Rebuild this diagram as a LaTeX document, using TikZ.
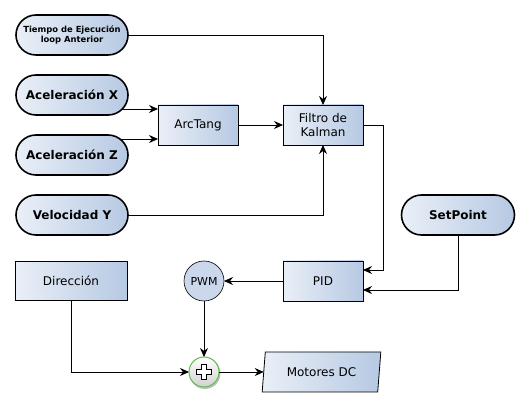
\documentclass[tikz,border=0pt]{standalone}
\usepackage{fontspec}
\setmainfont{DejaVu Sans}
\usepackage{xcolor}
\usetikzlibrary{calc,positioning,arrows.meta,shapes.geometric}

\definecolor{boxl}{HTML}{EAEFF7}
\definecolor{boxr}{HTML}{B6C9E3}
\definecolor{pwmfill}{HTML}{CBD8EB}
\definecolor{sumgreen}{HTML}{5CBF4C}

\begin{document}
\begin{tikzpicture}[x=1pt,y=1pt,every node/.style={draw, outer sep=0pt, inner sep=0pt},
    term/.style={rounded corners=20pt,line width=1.6pt,left color=boxl,right color=boxr,
        minimum width=112pt,minimum height=40pt,font=\fontsize{12}{14}\selectfont\bfseries},
    block/.style={line width=0.8pt,left color=boxl,right color=boxr,
        minimum width=80pt,minimum height=40pt,align=center,font=\fontsize{12}{14}\selectfont}]
\tikzset{sarrow/.style={-{Stealth[length=9pt,width=8pt,inset=3pt]},line width=0.8pt}}

  \useasboundingbox (0,0) rectangle (530,-411);

  % entradas
  \node(T0) [term,align=center,font=\fontsize{8.4}{10}\selectfont\bfseries] at (72,-35) {Tiempo de Ejecución\\loop Anterior};
  \node(AX) [term] at (72,-95)  {Aceleración X};
  \node(AZ) [term] at (72,-155) {Aceleración Z};
  \node(VY) [term] at (72,-215) {Velocidad Y};
  \node(SP) [term,minimum width=113pt] at (458,-215) {SetPoint};

  % bloques
  \node(ATAN) [block] at (198,-125) {ArcTang};
  \node(KF)   [block] at (323,-125) {Filtro de\\Kalman};
  \node(PID)  [block] at (323,-281) {PID};
  \node(DIR)  [block,minimum width=112pt,minimum height=39pt] at (71,-281) {Dirección};
  \node(PWM)  [circle,line width=0.6pt,fill=pwmfill,minimum size=40pt,font=\fontsize{11}{13}\selectfont] at (204,-281) {PWM};
  \fill[black!25] (205,-373.5) circle (15.5pt);
  \node(SUM)  [circle,draw=sumgreen,line width=1pt,minimum size=30pt,
      top color=white,bottom color=black!18] at (204,-372) { };
  \draw[line width=0.8pt,fill=white] ($(SUM)+(-2.5,7.5)$) -- ++(5,0) -- ++(0,-5) -- ++(5,0) -- ++(0,-5)
      -- ++(-5,0) -- ++(0,-5) -- ++(-5,0) -- ++(0,5) -- ++(-5,0) -- ++(0,5) -- ++(5,0) -- cycle;
  \node(MOT) [trapezium,trapezium left angle=78,trapezium right angle=102,trapezium stretches=true,
      line width=0.8pt,left color=boxl,right color=boxr,minimum width=119pt,minimum height=40pt,
      font=\fontsize{12}{14}\selectfont] at (321.5,-372) {Motores DC};

  % conexiones
  \draw[sarrow] (T0.east) -| (KF.north);
  \draw[sarrow] ([xshift=-5.7pt,yshift=-14pt]AX.east) -- ([yshift=16pt]ATAN.west);
  \draw[sarrow] ([xshift=-8pt,yshift=16pt]AZ.east) -- ([yshift=-14pt]ATAN.west);
  \draw[sarrow] (ATAN.east) -- (KF.west);
  \draw[sarrow] (VY.east) -| (KF.south);
  \draw[sarrow] (KF.east) -- ++(20,0) |- ([yshift=11pt]PID.east);
  \draw[sarrow] (SP.south) |- ([yshift=-9pt]PID.east);
  \draw[sarrow] (PID.west) -- (PWM.east);
  \draw[sarrow] (PWM.south) -- (SUM.north);
  \draw[sarrow] (DIR.south) |- (SUM.west);
  \draw[sarrow] (SUM.east) -- (SUM.east -| MOT.west);
\end{tikzpicture}
\end{document}
